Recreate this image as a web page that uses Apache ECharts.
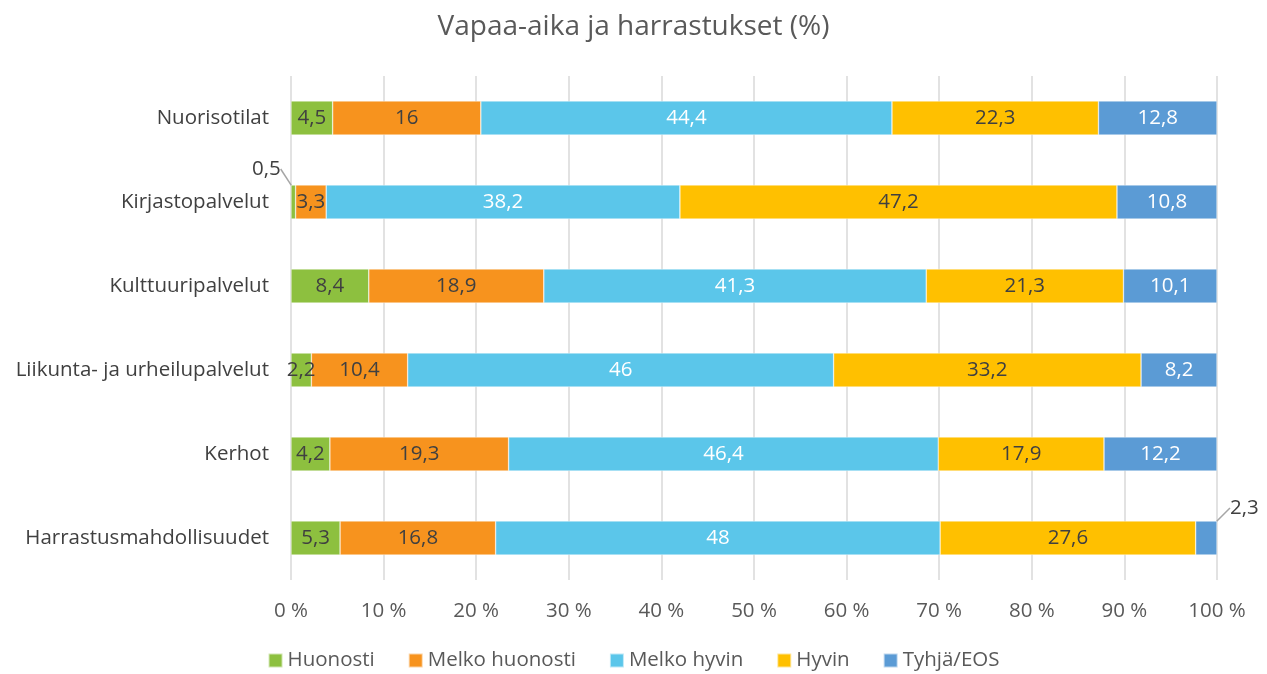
<!DOCTYPE html>
<html>
<head>
<meta charset="utf-8">
<script src="https://cdn.jsdelivr.net/npm/echarts@6/dist/echarts.min.js"></script>
<style>html,body{margin:0;padding:0;background:#fff}#c{width:1267px;height:674px}</style>
</head>
<body>
<div id="c"></div>
<script>
const categories = ['Nuorisotilat', 'Kirjastopalvelut', 'Kulttuuripalvelut', 'Liikunta- ja urheilupalvelut', 'Kerhot', 'Harrastusmahdollisuudet'];
const seriesNames = ['Huonosti', 'Melko huonosti', 'Melko hyvin', 'Hyvin', 'Tyhjä/EOS'];
const huonosti = [4.5, 0.5, 8.4, 2.2, 4.2, 5.3];
const melkoHuonosti = [16, 3.3, 18.9, 10.4, 19.3, 16.8];
const melkoHyvin = [44.4, 38.2, 41.3, 46, 46.4, 48];
const hyvin = [22.3, 47.2, 21.3, 33.2, 17.9, 27.6];
const tyhja = [12.8, 10.8, 10.1, 8.2, 12.2, 2.3];
const xTicks = [0, 10, 20, 30, 40, 50, 60, 70, 80, 90, 100];

const colors = ['#8DC03F', '#F7931E', '#5BC6EA', '#FFC000', '#5B9BD5'];
const labelColors = ['#404040', '#404040', '#ffffff', '#404040', '#ffffff'];
const values = [huonosti, melkoHuonosti, melkoHyvin, hyvin, tyhja];
const FONT = 'Open Sans';
const FS = 20.5;

// labels moved outside with leader lines: [seriesIndex, dataIndex, dx, dy]
const outside = [[0, 1, -27, -33], [4, 5, 38, -30]];

const series = values.map((arr, si) => ({
  name: seriesNames[si],
  type: 'bar',
  stack: 'total',
  barWidth: 34,
  itemStyle: { color: colors[si], borderColor: 'rgba(255,255,255,0.6)', borderWidth: 0.6 },
  label: {
    show: true,
    position: 'inside',
    color: labelColors[si],
    fontFamily: FONT,
    fontSize: FS,
    formatter: p => String(p.value).replace('.', ',')
  },
  labelLayout: function (p) {
    for (const o of outside) {
      if (o[0] === si && o[1] === p.dataIndex) return { dx: o[2], dy: o[3] };
    }
    return {};
  },
  data: arr.map((v, di) => {
    const o = outside.find(q => q[0] === si && q[1] === di);
    if (o) {
      return { value: v, label: { color: '#404040' }, labelLine: { show: true, lineStyle: { color: '#a6a6a6', width: 1.5 } } };
    }
    return v;
  })
}));

const chart = echarts.init(document.getElementById('c'));
chart.setOption({
  animation: false,
  color: colors,
  title: {
    text: 'Vapaa-aika ja harrastukset (%)',
    left: 'center',
    top: 8,
    textStyle: { fontFamily: FONT, fontSize: 28, fontWeight: 'normal', color: '#595959' }
  },
  legend: {
    bottom: -2,
    left: 'center',
    itemWidth: 14,
    itemHeight: 14,
    itemGap: 33,
    itemTextGap: 4,
    icon: 'rect',
    textStyle: { fontFamily: FONT, fontSize: FS, color: '#595959' },
    data: seriesNames
  },
  grid: { left: 291, right: 50, top: 76, bottom: 94, containLabel: false },
  xAxis: {
    type: 'value',
    min: 0,
    max: 100,
    interval: 10,
    axisLine: { show: false },
    axisTick: { show: false },
    splitLine: { show: true, lineStyle: { color: '#d9d9d9', width: 1.5 } },
    axisLabel: {
      fontFamily: FONT, fontSize: FS, color: '#595959', margin: 21,
      formatter: v => (xTicks.includes(v) ? v + ' %' : '')
    }
  },
  yAxis: {
    type: 'category',
    inverse: true,
    data: categories,
    axisLine: { show: false },
    axisTick: { show: false },
    axisLabel: { fontFamily: FONT, fontSize: FS, color: '#404040', margin: 22 }
  },
  series: series
});
</script>
</body>
</html>
